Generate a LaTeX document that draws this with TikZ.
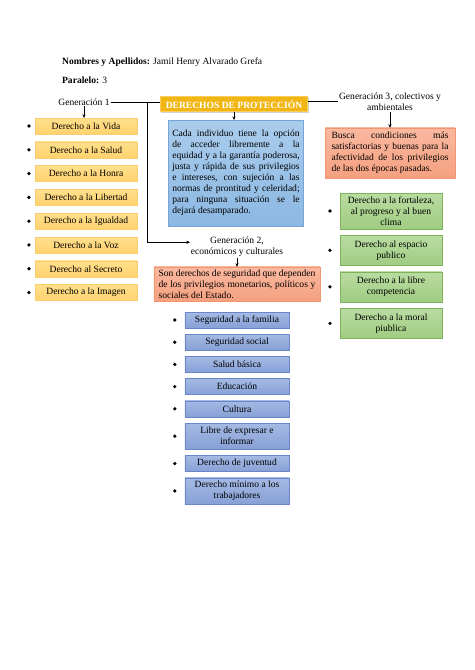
\documentclass[tikz,border=0pt]{standalone}
\usepackage{fontspec}
\setmainfont{Liberation Serif}
\usetikzlibrary{arrows.meta, positioning, shadows}
\definecolor{goldfill}{RGB}{242, 182, 20}
\definecolor{goldline}{RGB}{250, 205, 90}
\definecolor{bluetop}{RGB}{170, 204, 236}
\definecolor{bluebot}{RGB}{140, 184, 226}
\definecolor{blueline}{RGB}{120, 165, 215}
\definecolor{salmontop}{RGB}{250, 185, 160}
\definecolor{salmonbot}{RGB}{245, 160, 128}
\definecolor{salmonline}{RGB}{240, 150, 115}
\definecolor{yellowtop}{RGB}{255, 224, 140}
\definecolor{yellowbot}{RGB}{255, 210, 110}
\definecolor{yellowline}{RGB}{250, 205, 110}
\definecolor{greentop}{RGB}{186, 220, 162}
\definecolor{greenbot}{RGB}{160, 204, 130}
\definecolor{greenline}{RGB}{125, 180, 90}
\definecolor{violettop}{RGB}{165, 186, 228}
\definecolor{violetbot}{RGB}{135, 160, 214}
\definecolor{violetline}{RGB}{105, 135, 200}
\tikzset{
    plain/.style={inner sep=0pt, anchor=west, font=\fontsize{12}{13.8}\selectfont},
    genlabel/.style={align=center, inner sep=1pt, font=\fontsize{12}{13.8}\selectfont},
    titlebox/.style={rectangle, draw=goldline, fill=goldfill, text=white, font=\bfseries\fontsize{12}{13.8}\selectfont, minimum width=185pt, minimum height=19pt, inner sep=1pt, drop shadow={opacity=0.35, shadow xshift=1.2pt, shadow yshift=-1.2pt}},
    bluebox/.style={rectangle, draw=blueline, top color=bluetop, bottom color=bluebot, text width=160pt, inner xsep=5pt, align=justify, minimum height=133pt, font=\fontsize{12}{13.8}\selectfont},
    salmonbox/.style={rectangle, draw=salmonline, top color=salmontop, bottom color=salmonbot, align=justify, inner xsep=6pt, font=\fontsize{12}{13.8}\selectfont},
    yellowbox/.style={rectangle, draw=yellowline, top color=yellowtop, bottom color=yellowbot, minimum width=128pt, minimum height=20pt, inner sep=1pt, font=\fontsize{12}{13.8}\selectfont},
    greenbox/.style={rectangle, draw=greenline, top color=greentop, bottom color=greenbot, minimum width=128pt, minimum height=38pt, inner sep=1pt, align=center, font=\fontsize{12}{13.8}\selectfont},
    violetbox/.style={rectangle, draw=violetline, top color=violettop, bottom color=violetbot, minimum width=131pt, minimum height=20pt, inner sep=1pt, align=center, font=\fontsize{12}{13.8}\selectfont},
    dot/.style={circle, fill=black, inner sep=0pt, minimum size=4.6pt},
    arrow/.style={-{Stealth[length=4.5pt, width=4pt]}, black, semithick}
}

\begin{document}
\begin{tikzpicture}[x=1.2567pt, y=-1.2567pt, node distance=7.5pt and 6pt]
    \useasboundingbox[fill=white] (0,0) rectangle (474,670);

    \node (names) [plain] at (62,62) {\textbf{Nombres y Apellidos:} Jamil Henry Alvarado Grefa};
    \node (para) [plain] at (62,80) {\textbf{Paralelo:} 3};

    \node (title) [titlebox] at (234,104) {DERECHOS DE PROTECCIÓN};
    \node (gen1) [genlabel] at (84,102) {Generación 1};
    \node (gen3) [genlabel] at (390,102) {Generación 3, colectivos y\\ambientales};
    \node (info) [bluebox] at (236,173) {Cada individuo tiene la opción\linebreak
        de acceder libremente a la\linebreak
        equidad y a la garantía poderosa,\linebreak
        justa y rápida de sus privilegios\linebreak
        e intereses, con sujeción a las\linebreak
        normas de prontitud y celeridad;\linebreak
        para ninguna situación se le\linebreak
        dejará desamparado.};
    \node (gen2) [genlabel] at (237,247) {Generación 2,\\económicos y culturales};
    \node (eco) [salmonbox, text width=197pt] at (237,284) {Son derechos de seguridad que dependen\linebreak
        de los privilegios monetarios, políticos y\linebreak
        sociales del Estado.};
    \node (coll) [salmonbox, text width=147pt, inner xsep=8pt, minimum height=63pt] at (390,153) {Busca condiciones más\linebreak
        satisfactorias y buenas para la\linebreak
        afectividad de los privilegios\linebreak
        de las dos épocas pasadas.};

    % generacion 1
    \node (vida) [yellowbox] at (86,126) {Derecho a la Vida};
    \node (salud) [yellowbox, below=9.5pt of vida] {Derecho a la Salud};
    \node (honra) [yellowbox, below=9.5pt of salud] {Derecho a la Honra};
    \node (libertad) [yellowbox, below=9.5pt of honra] {Derecho a la Libertad};
    \node (igualdad) [yellowbox, below=9.5pt of libertad] {Derecho a la Igualdad};
    \node (voz) [yellowbox, below=9.5pt of igualdad] {Derecho a la Voz};
    \node (secreto) [yellowbox, below=9.5pt of voz] {Derecho al Secreto};
    \node (imagen) [yellowbox, below=9.5pt of secreto] {Derecho a la Imagen};
    \foreach \n in {vida, salud, honra, libertad, igualdad, voz, secreto, imagen}
        \node (dot-\n) [dot, left=5pt of \n] {};

    % generacion 2
    \node (familia) [violetbox] at (237,320) {Seguridad a la familia};
    \node (social) [violetbox, below=of familia] {Seguridad social};
    \node (salud2) [violetbox, below=of social] {Salud básica};
    \node (educ) [violetbox, below=of salud2] {Educación};
    \node (cultura) [violetbox, below=of educ] {Cultura};
    \node (expresar) [violetbox, below=of cultura, minimum height=33pt] {Libre de expresar e\\informar};
    \node (juventud) [violetbox, below=of expresar] {Derecho de juventud};
    \node (minimo) [violetbox, below=of juventud, minimum height=33pt] {Derecho mínimo a los\\trabajadores};
    \foreach \n in {familia, social, salud2, educ, cultura, expresar, juventud, minimo}
        \node (dot-\n) [dot, left=10pt of \n] {};

    % generacion 3
    \node (fortaleza) [greenbox, minimum height=45pt] at (391,211) {Derecho a la fortaleza,\\al progreso y al buen\\clima};
    \node (espacio) [greenbox, below=of fortaleza] {Derecho al espacio\\publico};
    \node (libre) [greenbox, below=of espacio] {Derecho a la libre\\competencia};
    \node (moral) [greenbox, below=of libre] {Derecho a la moral\\piublica};
    \foreach \n in {fortaleza, espacio, libre, moral}
        \node (dot-\n) [dot, left=10pt of \n] {};

    \coordinate (split) at (147,102);
    \draw (gen1.east) -- (gen1.east -| title.west);
    \draw [arrow] (split) |- ([yshift=6pt]gen2.west);
    \draw ([yshift=3pt]title.east) -- ([yshift=3pt]title.east -| gen3.west);
    \draw [arrow] (gen1.south) -- (gen1.south |- vida.north);
    \draw [arrow] (title.south) -- (title.south |- info.north);
    \draw [arrow] (gen2) -- (eco);
    \draw [arrow] (gen3) -- (coll);
\end{tikzpicture}
\end{document}
